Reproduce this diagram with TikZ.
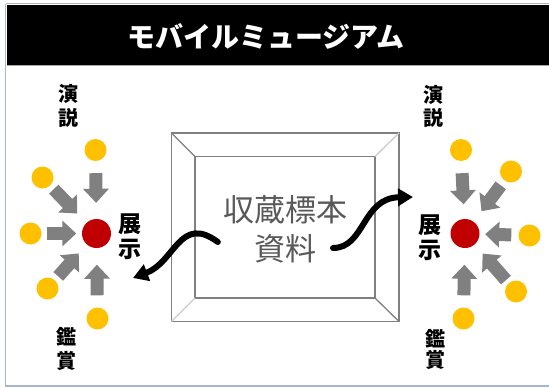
\documentclass[tikz,border=0pt]{standalone}
\usepackage{fontspec}
\newfontfamily\jp{Noto Sans CJK JP}
\usetikzlibrary{arrows.meta}
\definecolor{dotY}{HTML}{FFC000}
\definecolor{dotR}{HTML}{C00000}
\definecolor{arrG}{HTML}{808080}
\definecolor{frameC}{HTML}{A7B6C8}
\begin{document}
\begin{tikzpicture}[x=1pt,y=-1pt,
  ydot/.style={circle,fill=dotY,minimum size=22pt,inner sep=0pt},
  rdot/.style={circle,fill=dotR,minimum size=29pt,inner sep=0pt},
  garrow/.style={draw=arrG,line width=13pt,-{Triangle[width=25pt,length=14pt]}},
  barrow/.style={draw=black,line width=6pt,line cap=round,-{Triangle[width=17pt,length=15pt]}},
  lbl/.style={font=\jp\bfseries\fontsize{20}{20}\selectfont,inner sep=0pt},
  tenji/.style={font=\jp\bfseries\fontsize{23}{23}\selectfont,inner sep=0pt},
  boxline/.style={draw=arrG,line width=1.3pt}]
\useasboundingbox (0,0) rectangle (549,388);
% frame
\draw[frameC,line width=1.5pt] (5.5,3.5) -- (5.5,386) -- (560,386);
\draw[gray!60,line width=0.8pt] (5.5,3.5) -- (549,3.5);
\fill[black] (6.5,4.5) rectangle (549,64.5);
\draw[gray!70,line width=1pt] (6.5,65.5) -- (549,65.5);
\node[font=\jp\bfseries\fontsize{28}{28}\selectfont,text=white] (title) at (266,36) {モバイルミュージアム};
% central box
\draw[boxline,fill=white] (171.5,133) rectangle (399,321.5);
\draw[boxline] (195,156.5) rectangle (375,298);
\draw[boxline] (171.5,133) -- (195,156.5);
\draw[boxline,draw=arrG!40] (399,133) -- (375,156.5);
\draw[boxline,draw=arrG!40] (171.5,321.5) -- (195,298);
\draw[boxline] (399,321.5) -- (375,298);
\node[font=\jp\fontsize{31}{39}\selectfont,text=black!65,align=center,inner sep=0pt] (store) at (285,229) {収蔵標本\\資料};
% left cluster
\node[rdot] (rL) at (96.5,233.5) {};
\node[ydot] (yL1) at (95.5,150) {};
\node[ydot] (yL2) at (42.5,177.5) {};
\node[ydot] (yL3) at (30.5,233.5) {};
\node[ydot] (yL4) at (47.5,288.5) {};
\node[ydot] (yL5) at (97.5,318.5) {};
\draw[garrow,shorten <=12pt,shorten >=16pt] (yL1) -- (rL);
\draw[garrow,shorten <=5pt,shorten >=13pt] (yL2) -- (rL);
\draw[garrow,shorten <=5pt,shorten >=5.5pt] (yL3) -- (rL);
\draw[garrow,shorten <=5pt,shorten >=12pt] (yL4) -- (rL);
\draw[garrow,shorten <=12pt,shorten >=16.5pt] (yL5) -- (rL);
\node[tenji] (tenL) at (130,224) {展};
\node[tenji] (jiL) at (130,249) {示};
\node[lbl] (aL1) at (68,94) {演};
\node[lbl] (aL2) at (68,118) {説};
\node[lbl] (bL1) at (66,337) {鑑};
\node[lbl] (bL2) at (66,361) {賞};
% right cluster
\node[rdot] (rR) at (465,233.5) {};
\node[ydot] (yR1) at (461,150) {};
\node[ydot] (yR2) at (511,171.5) {};
\node[ydot] (yR3) at (529.5,235.5) {};
\node[ydot] (yR4) at (516,291.5) {};
\node[ydot] (yR5) at (463.5,318.5) {};
\draw[garrow,shorten <=12pt,shorten >=14.5pt] (yR1) -- (rR);
\draw[garrow,shorten <=6pt,shorten >=13pt] (yR2) -- (rR);
\draw[garrow,shorten <=7pt,shorten >=5.5pt] (yR3) -- (rR);
\draw[garrow,shorten <=4pt,shorten >=12pt] (yR4) -- (rR);
\draw[garrow,shorten <=12pt,shorten >=16.5pt] (yR5) -- (rR);
\node[tenji] (tenR) at (430,225) {展};
\node[tenji] (jiR) at (430,250) {示};
\node[lbl] (aR1) at (433,95) {演};
\node[lbl] (aR2) at (433,118) {説};
\node[lbl] (bR1) at (435,339) {鑑};
\node[lbl] (bR2) at (435,360) {賞};
% curved arrows
\coordinate (tipL) at (133,278);
\coordinate (tipR) at (413,197);
\draw[barrow] ([xshift=-5pt,yshift=-13pt]store.west) .. controls (180,214) and (175,262) .. (tipL);
\draw[barrow] (333,248) .. controls (365,248) and (362,198) .. (tipR);
\end{tikzpicture}
\end{document}
